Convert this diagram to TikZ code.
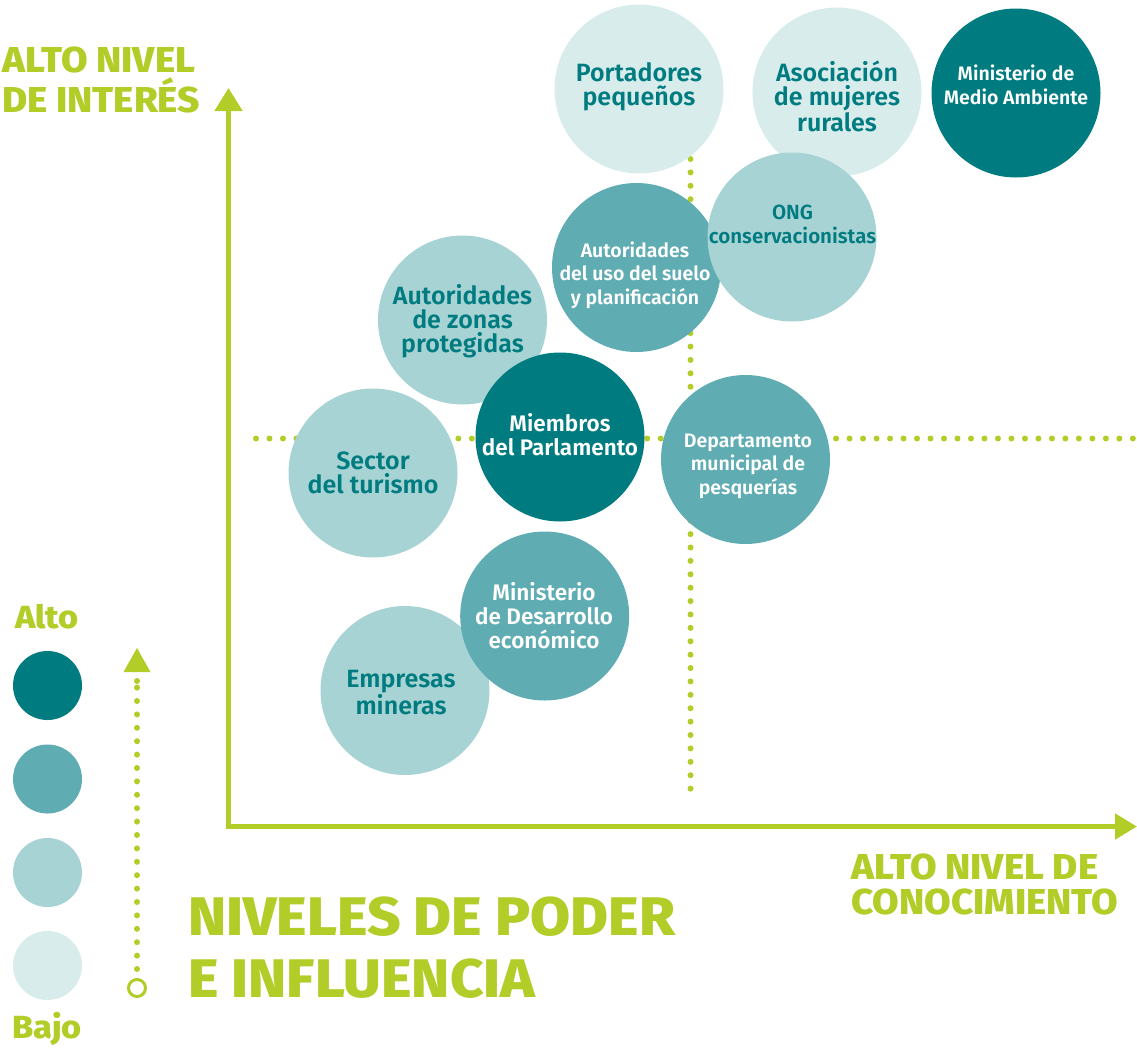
\documentclass[tikz,border=0pt]{standalone}
\usepackage{fontspec}
\setmainfont{Fira Sans}
\newfontfamily\bubfont{Fira Sans SemiBold}
\newfontfamily\headfont{Fira Sans ExtraBold}[FakeStretch=1.07]
\usetikzlibrary{arrows.meta}
\definecolor{lime}{RGB}{178,204,40}
\definecolor{tdark}{RGB}{0,124,128}
\definecolor{tmid}{RGB}{95,172,178}
\definecolor{tlmid}{RGB}{167,211,212}
\definecolor{tvlight}{RGB}{216,236,236}
\begin{document}
\begin{tikzpicture}[x=1pt,y=-1pt,
  bubble/.style={circle, minimum size=169pt, inner sep=0pt, draw=none},
  legdot/.style={circle, minimum size=69pt, inner sep=0pt, draw=none},
  btext/.style={anchor=base, align=center, inner sep=0pt},
  bigw/.style={font=\bubfont\fontsize{22.5}{24}\selectfont, text=white},
  bigt/.style={font=\bubfont\fontsize{25}{24}\selectfont, text=tdark},
  smallw/.style={font=\bubfont\fontsize{19.5}{23.5}\selectfont, text=white},
  smallt/.style={font=\bubfont\fontsize{20.5}{24}\selectfont, text=tdark},
  dotline/.style={lime, line width=6pt, line cap=round},
  axis/.style={lime, line width=5pt, line join=miter},
  head/.style={anchor=base west, align=left, inner sep=0pt, text=lime, font=\headfont\fontsize{36}{40}\selectfont},
  leg/.style={anchor=base, inner sep=0pt, text=lime, font=\headfont\fontsize{32}{36}\selectfont},
]
\useasboundingbox (0,0) rectangle (1137,1050);

% dotted quadrant lines
\coordinate (hl) at (256,438.5);
\coordinate (hr) at (1133,438.5);
\coordinate (vt) at (690.5,159);
\coordinate (vb) at (690.5,802);
\draw[dotline, dash pattern=on 0pt off 13.49pt] (hl) -- (hr);
\draw[dotline, dash pattern=on 0pt off 13.396pt] (vt) -- (vb);

% axes
\coordinate (ytop) at (228.5,88);
\coordinate (origin) at (228.5,826.5);
\coordinate (xend) at (1137,826.5);
\draw[axis, {Triangle[length=23pt,width=27pt]}-{Triangle[length=22pt,width=25pt]}] (ytop) -- (origin) -- (xend);

% bubbles
\node[bubble, fill=tvlight] (port) at (639,89) {};
\node[btext, bigt] (port-t) at (639,105) {Portadores\\pequeños};
\node[bubble, fill=tvlight] (asoc) at (837,92) {};
\node[btext, bigt] (asoc-t) at (837,131) {Asociación\\de mujeres\\rurales};
\node[bubble, fill=tdark] (mma) at (1016,93) {};
\node[btext, smallw] (mma-t) at (1016,104) {Ministerio de\\Medio Ambiente};
\node[bubble, fill=tmid] (aus) at (636.5,267.5) {};
\node[btext, smallw] (aus-t) at (635,304) {Autoridades\\del uso del suelo\\y planificación};
\node[bubble, fill=tlmid] (ong) at (792,237) {};
\node[btext, smallt] (ong-t) at (792.5,243) {ONG\\conservacionistas};
\node[bubble, fill=tlmid] (azp) at (462.5,320) {};
\node[btext, bigt] (azp-t) at (462.5,352) {Autoridades\\de zonas\\protegidas};
\node[bubble, fill=tdark] (mp) at (560,437) {};
\node[btext, bigw] (mp-t) at (560,455) {Miembros\\del Parlamento};
\node[bubble, fill=tlmid] (st) at (373,473) {};
\node[btext, bigt] (st-t) at (373,493) {Sector\\del turismo};
\node[bubble, fill=tmid] (dmp) at (745.5,459.5) {};
\node[btext, smallw] (dmp-t) at (748,494) {Departamento\\municipal de\\pesquerías};
\node[bubble, fill=tlmid] (em) at (405,690.5) {};
\node[btext, bigt] (em-t) at (401,714) {Empresas\\mineras};
\node[bubble, fill=tmid] (mde) at (544.7,616) {};
\node[btext, bigw] (mde-t) at (544,648) {Ministerio\\de Desarrollo\\económico};

% axis labels
\node[head] (yl) at (2,112) {ALTO NIVEL\\DE INTERÉS};
\node[head, font=\headfont\fontsize{36}{35}\selectfont] (xl) at (851,914) {ALTO NIVEL DE\\CONOCIMIENTO};
\node[head, font=\headfont\fontsize{54.3}{62}\selectfont] (title) at (188,997) {NIVELES DE PODER\\E INFLUENCIA};

% legend
\node[leg] (alto) at (47,628) {Alto};
\node[leg] (bajo) at (47,1038) {Bajo};
\node[legdot, fill=tdark] (l1) at (47.5,685.5) {};
\node[legdot, fill=tmid] (l2) at (47.5,779) {};
\node[legdot, fill=tlmid] (l3) at (47.5,872.5) {};
\node[legdot, fill=tvlight] (l4) at (47.5,965.5) {};
\node[circle, draw=lime, line width=3pt, minimum size=17pt, inner sep=0pt] (lcirc) at (137,988) {};
\coordinate (lbot) at (137,969);
\coordinate (ltop) at (137,687.6);
\draw[dotline, dash pattern=on 0pt off 13.4pt] (lbot) -- (ltop);
\fill[lime] (137,681) circle (3pt);
\fill[lime] (137,648) -- (150.5,672) -- (123.5,672) -- cycle;
\end{tikzpicture}
\end{document}
